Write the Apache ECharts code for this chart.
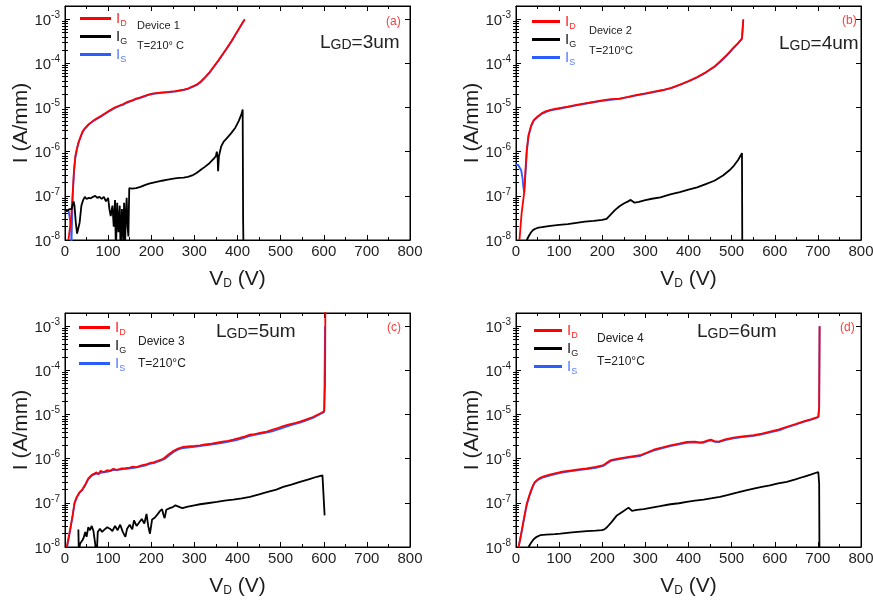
<!DOCTYPE html>
<html><head><meta charset="utf-8">
<script src="https://cdn.jsdelivr.net/npm/echarts@6/dist/echarts.min.js"></script>
<style>html,body{margin:0;padding:0;background:#fff}#c{width:873px;height:601px}</style>
</head><body><div id="c"></div>
<script>
// ---------- axis ranges / tick labels ----------
const xMin = 0, xMax = 800, xStep = 100;
const yMin = 1e-8, yMax = 2e-3;
const yDecadeExps = [-8, -7, -6, -5, -4, -3];
const yMinorFactors = [2, 3, 4, 5, 6, 7, 8, 9];

// ---------- data: [V_D (V), I (A/mm)] ----------
// (a) Device 1, LGD = 3 um
const aID = [[8,1e-8],[14,3e-8],[18,1.2e-7],[21,4e-7],[24,8e-7],[27,1.1e-6],[31,1.6e-6],[36,2.2e-6],[41,2.9e-6],[46,3.4e-6],[55,4.2e-6],[65,5e-6],[75,5.8e-6],[85,6.6e-6],[95,7.6e-6],[105,8.8e-6],[115,1.0e-5],[125,1.1e-5],[135,1.2e-5],[145,1.35e-5],[155,1.45e-5],[165,1.6e-5],[175,1.7e-5],[185,1.85e-5],[195,2.0e-5],[205,2.1e-5],[215,2.15e-5],[225,2.2e-5],[235,2.25e-5],[245,2.3e-5],[255,2.35e-5],[265,2.45e-5],[275,2.55e-5],[285,2.7e-5],[295,3.0e-5],[305,3.3e-5],[315,3.9e-5],[325,4.9e-5],[335,6.3e-5],[345,8.5e-5],[355,1.15e-4],[365,1.6e-4],[375,2.2e-4],[385,3.1e-4],[395,4.5e-4],[405,6.5e-4],[417,1.0e-3]];
const aIG = [[0,4.8e-8],[5,4.5e-8],[10,5e-8],[15,5e-8],[18,5.5e-8],[20,7.5e-8],[22,6e-8],[25,2.5e-8],[28,1.4e-8],[31,1.3e-8],[34,2.5e-8],[38,6e-8],[42,8e-8],[46,9.5e-8],[50,8.5e-8],[55,9e-8],[60,8.8e-8],[65,9.5e-8],[70,1e-7],[75,9e-8],[80,9.5e-8],[85,8.5e-8],[90,9.5e-8],[95,7.5e-8],[100,9e-8],[103,5e-8],[106,3.5e-8],[110,6e-8],[113,2e-8],[116,8e-8],[118,5e-9],[121,7e-8],[124,1.5e-8],[127,6e-8],[129,4e-9],[132,5e-8],[135,1e-8],[137,7e-8],[139,5e-9],[141,4e-8],[143,9e-8],[145,2e-8],[147,1.2e-8],[149,1.5e-7],[155,1.45e-7],[165,1.5e-7],[175,1.6e-7],[185,1.75e-7],[195,1.9e-7],[205,2e-7],[215,2.1e-7],[225,2.2e-7],[235,2.3e-7],[245,2.4e-7],[255,2.5e-7],[265,2.55e-7],[275,2.6e-7],[285,2.7e-7],[295,2.9e-7],[305,3.3e-7],[315,3.9e-7],[325,4.6e-7],[335,5.5e-7],[345,7e-7],[350,8e-7],[352,1e-6],[354,7e-7],[355,3.6e-7],[357,8e-7],[362,1.3e-6],[368,1.7e-6],[375,2e-6],[385,2.6e-6],[395,3.5e-6],[403,5e-6],[409,7e-6],[412,9e-6],[413,3e-8],[415,1e-9]];
const aIS = [[0,4.5e-8],[4,4.2e-8],[8,4.8e-8],[12,4.5e-8],[14,2e-8],[15,8e-9],[17,8e-9],[18,1.1e-7],[21,3.6e-7],[24,7.2e-7],[27,1.05e-6],[31,1.55e-6],[36,2.1e-6],[41,2.8e-6],[46,3.3e-6],[55,4.1e-6],[65,4.9e-6],[75,5.6e-6],[85,6.4e-6],[95,7.4e-6],[105,8.5e-6],[115,9.7e-6],[125,1.07e-5],[135,1.17e-5],[145,1.3e-5],[155,1.42e-5],[165,1.55e-5],[175,1.66e-5],[185,1.8e-5],[195,1.95e-5],[205,2.05e-5],[215,2.1e-5],[225,2.15e-5],[235,2.2e-5],[245,2.25e-5],[255,2.3e-5],[265,2.4e-5],[275,2.5e-5],[285,2.65e-5],[295,2.9e-5],[305,3.2e-5],[315,3.8e-5],[325,4.8e-5],[335,6.1e-5],[345,8.3e-5],[355,1.12e-4],[365,1.55e-4],[375,2.15e-4],[385,3.0e-4],[395,4.4e-4],[405,6.4e-4],[415,9.6e-4]];

// (b) Device 2, LGD = 4 um
const bID = [[8,1e-8],[13,4e-8],[19,1.2e-7],[22,4e-7],[25,1.1e-6],[29,2.4e-6],[35,3.9e-6],[41,5.2e-6],[50,6.3e-6],[60,7.5e-6],[70,8.3e-6],[80,8.9e-6],[90,9.3e-6],[100,9.7e-6],[120,1.05e-5],[140,1.15e-5],[160,1.25e-5],[180,1.35e-5],[200,1.45e-5],[220,1.55e-5],[240,1.6e-5],[260,1.75e-5],[280,1.95e-5],[300,2.1e-5],[320,2.3e-5],[340,2.5e-5],[360,2.8e-5],[380,3.3e-5],[400,4e-5],[420,4.9e-5],[440,6.3e-5],[460,8.5e-5],[475,1.15e-4],[490,1.6e-4],[505,2.3e-4],[515,2.9e-4],[524,3.7e-4],[526,3.8e-4],[527,1e-3]];
const bIG = [[25,1e-8],[30,1.25e-8],[35,1.5e-8],[40,1.7e-8],[45,1.8e-8],[52,1.9e-8],[60,1.95e-8],[80,2.1e-8],[100,2.2e-8],[120,2.3e-8],[140,2.45e-8],[160,2.6e-8],[180,2.7e-8],[200,2.85e-8],[210,3e-8],[220,3.8e-8],[230,4.8e-8],[240,5.8e-8],[250,6.7e-8],[260,7.5e-8],[266,8.1e-8],[270,7.6e-8],[275,7e-8],[285,7.3e-8],[300,8e-8],[315,8.6e-8],[335,9.2e-8],[350,1.03e-7],[360,1.1e-7],[380,1.22e-7],[400,1.38e-7],[420,1.55e-7],[440,1.85e-7],[460,2.2e-7],[480,2.9e-7],[495,3.8e-7],[505,4.8e-7],[515,6.5e-7],[524,9.3e-7],[525,1e-9]];
const bIS = [[0,5e-7],[5,5e-7],[9,4.7e-7],[12,3.8e-7],[15,2.6e-7],[17,1.6e-7],[19,1.2e-7],[21,2.2e-7],[23,4.5e-7],[25,1.0e-6],[29,2.2e-6],[35,3.7e-6],[41,5.0e-6],[50,6.1e-6],[60,7.2e-6],[70,8.0e-6],[80,8.6e-6],[90,9.0e-6],[100,9.4e-6],[120,1.02e-5],[140,1.12e-5],[160,1.22e-5],[180,1.32e-5],[200,1.42e-5],[220,1.5e-5],[240,1.58e-5],[260,1.72e-5],[280,1.9e-5],[300,2.05e-5],[320,2.25e-5],[340,2.45e-5],[360,2.75e-5],[380,3.25e-5],[400,3.9e-5],[420,4.8e-5],[440,6.2e-5],[460,8.3e-5],[475,1.12e-4],[490,1.55e-4],[505,2.25e-4],[515,2.85e-4],[524,3.6e-4],[526,3.7e-4],[527,9.5e-4]];

// (c) Device 3, LGD = 5 um
const cID = [[4,1e-8],[12,2.5e-8],[18,5.5e-8],[22,1e-7],[27,1.35e-7],[33,1.7e-7],[40,2.0e-7],[46,2.5e-7],[54,3.6e-7],[62,4.3e-7],[68,4.6e-7],[73,4.9e-7],[78,4.4e-7],[82,5.3e-7],[90,5.0e-7],[98,5.5e-7],[104,5.3e-7],[112,5.9e-7],[120,5.6e-7],[130,6.0e-7],[140,6.1e-7],[150,6.3e-7],[158,6.6e-7],[165,6.4e-7],[175,7.0e-7],[185,7.3e-7],[197,8.0e-7],[205,8.3e-7],[215,8.9e-7],[228,1.0e-6],[240,1.25e-6],[251,1.5e-6],[262,1.7e-6],[274,1.85e-6],[285,1.9e-6],[300,1.95e-6],[313,2.0e-6],[325,2.1e-6],[340,2.2e-6],[352,2.3e-6],[365,2.45e-6],[378,2.55e-6],[390,2.7e-6],[405,2.95e-6],[418,3.2e-6],[429,3.5e-6],[440,3.6e-6],[455,3.9e-6],[468,4.1e-6],[480,4.5e-6],[495,5.0e-6],[506,5.5e-6],[520,6.0e-6],[535,6.5e-6],[545,6.9e-6],[560,7.8e-6],[575,8.8e-6],[584,9.8e-6],[595,1.1e-5],[601,1.2e-5],[603,5e-5],[604,1e-2]];
const cIG = [[31,2.5e-8],[32,8e-9],[35,1.2e-8],[40,1.4e-8],[43,1.6e-8],[47,2.2e-8],[50,1.7e-8],[54,2.8e-8],[58,2.4e-8],[62,3e-8],[66,2.3e-8],[70,1.2e-8],[73,5e-9],[76,2.2e-8],[81,2.6e-8],[86,2.2e-8],[92,2.5e-8],[98,2.8e-8],[104,2.6e-8],[110,2.3e-8],[116,3e-8],[122,2.4e-8],[128,3.2e-8],[134,2.2e-8],[140,1.7e-8],[144,2.6e-8],[150,3.2e-8],[156,2.5e-8],[160,4e-8],[166,3e-8],[172,3.6e-8],[178,4.3e-8],[184,3.4e-8],[189,5.6e-8],[193,3e-8],[197,2e-8],[202,4.2e-8],[208,4.6e-8],[214,5.4e-8],[220,6.5e-8],[225,7.2e-8],[228,5.5e-8],[231,4.5e-8],[235,7e-8],[243,7.6e-8],[250,8e-8],[256,8.8e-8],[260,9.3e-8],[266,8e-8],[272,7.6e-8],[285,8.2e-8],[300,8.8e-8],[313,9.3e-8],[330,9.8e-8],[352,1.05e-7],[370,1.12e-7],[390,1.18e-7],[410,1.26e-7],[429,1.37e-7],[450,1.55e-7],[468,1.75e-7],[490,2.0e-7],[506,2.3e-7],[525,2.6e-7],[545,3.0e-7],[565,3.4e-7],[584,3.9e-7],[597,4.2e-7],[600,4.5e-7],[602,5.2e-8]];
const cIS = [[5,1e-8],[12,2.4e-8],[18,5.2e-8],[22,9.5e-8],[27,1.3e-7],[33,1.65e-7],[40,1.95e-7],[46,2.4e-7],[54,3.4e-7],[62,4.1e-7],[70,4.5e-7],[80,4.7e-7],[90,4.9e-7],[100,5.1e-7],[112,5.5e-7],[124,5.6e-7],[136,5.8e-7],[148,6.0e-7],[160,6.2e-7],[172,6.5e-7],[185,7.0e-7],[197,7.6e-7],[210,8.2e-7],[222,9.0e-7],[232,1.0e-6],[242,1.2e-6],[252,1.42e-6],[262,1.6e-6],[274,1.75e-6],[290,1.82e-6],[305,1.88e-6],[320,1.98e-6],[335,2.07e-6],[350,2.18e-6],[365,2.3e-6],[380,2.45e-6],[395,2.6e-6],[410,2.85e-6],[425,3.2e-6],[440,3.45e-6],[455,3.7e-6],[470,3.95e-6],[485,4.3e-6],[500,4.8e-6],[515,5.4e-6],[530,6.0e-6],[545,6.6e-6],[560,7.4e-6],[575,8.4e-6],[590,1.0e-5],[601,1.15e-5],[603,1e-3]];

// (d) Device 4, LGD = 6 um
const dID = [[6,1e-8],[12,2e-8],[18,4.2e-8],[25,9.6e-8],[32,1.6e-7],[38,2.3e-7],[43,2.9e-7],[49,3.3e-7],[56,3.7e-7],[64,4.0e-7],[80,4.4e-7],[103,5.0e-7],[125,5.4e-7],[145,5.7e-7],[164,6.0e-7],[185,6.5e-7],[203,7.2e-7],[212,8.3e-7],[220,9.3e-7],[240,1.02e-6],[265,1.12e-6],[288,1.2e-6],[305,1.4e-6],[319,1.6e-6],[340,1.8e-6],[358,2.0e-6],[378,2.2e-6],[396,2.4e-6],[415,2.45e-6],[425,2.35e-6],[435,2.4e-6],[445,2.6e-6],[452,2.7e-6],[460,2.5e-6],[470,2.45e-6],[485,2.75e-6],[504,3.0e-6],[525,3.2e-6],[551,3.4e-6],[570,3.7e-6],[589,4.1e-6],[610,4.6e-6],[628,5.3e-6],[648,6.1e-6],[667,7.0e-6],[685,7.9e-6],[701,8.9e-6],[703,1.5e-5],[704,1e-3]];
const dIG = [[29,1e-8],[35,1.25e-8],[41,1.5e-8],[48,1.7e-8],[56,1.85e-8],[70,1.9e-8],[90,1.95e-8],[103,2e-8],[130,2.15e-8],[164,2.3e-8],[185,2.35e-8],[199,2.4e-8],[205,2.5e-8],[211,2.8e-8],[222,3.7e-8],[234,5.2e-8],[248,6.4e-8],[261,7.8e-8],[265,7.6e-8],[269,6.6e-8],[280,6.9e-8],[296,7.2e-8],[315,7.8e-8],[334,8.4e-8],[358,9.3e-8],[378,9.8e-8],[396,1.05e-7],[415,1.12e-7],[435,1.19e-7],[455,1.28e-7],[473,1.37e-7],[492,1.52e-7],[512,1.7e-7],[531,1.9e-7],[551,2.1e-7],[570,2.3e-7],[589,2.5e-7],[608,2.75e-7],[628,3e-7],[648,3.4e-7],[667,3.9e-7],[685,4.4e-7],[701,5e-7],[703,2.7e-7],[704,1e-9]];
const dIS = [[6,1e-8],[12,1.9e-8],[18,4e-8],[25,9e-8],[32,1.5e-7],[38,2.2e-7],[43,2.8e-7],[49,3.2e-7],[56,3.5e-7],[64,3.8e-7],[80,4.2e-7],[103,4.8e-7],[125,5.2e-7],[145,5.5e-7],[164,5.8e-7],[185,6.2e-7],[203,6.9e-7],[212,7.9e-7],[220,8.9e-7],[240,9.8e-7],[265,1.08e-6],[288,1.15e-6],[305,1.35e-6],[319,1.53e-6],[340,1.73e-6],[358,1.92e-6],[378,2.12e-6],[396,2.3e-6],[415,2.35e-6],[425,2.28e-6],[435,2.3e-6],[445,2.5e-6],[452,2.6e-6],[460,2.42e-6],[470,2.38e-6],[485,2.65e-6],[504,2.9e-6],[525,3.1e-6],[551,3.3e-6],[570,3.55e-6],[589,3.95e-6],[610,4.4e-6],[628,5.1e-6],[648,5.9e-6],[667,6.8e-6],[685,7.7e-6],[701,8.7e-6],[703,1.4e-5],[704,1e-3]];

// ---------- texts ----------
const seriesNames = ['I_D', 'I_G', 'I_S'];
const deviceNames = ['Device 1', 'Device 2', 'Device 3', 'Device 4'];
const tempTexts = ['T=210° C', 'T=210°C', 'T=210°C', 'T=210°C'];
const lgdValues = ['3um', '4um', '5um', '6um'];
const panelTags = ['(a)', '(b)', '(c)', '(d)'];

// ---------- layout (pixels) ----------
const FONT = '"Liberation Sans", Arial, Helvetica, sans-serif';
const RED = '#ff0000', BLUE = '#2a5cff', BLACK = '#000000', TXT = '#1e1e1e';
const layout = [
  {left: 65,  top: 6,   legL: 80,  legT: 11,  dev: [137, 26],  tmp: [137, 46],  lgd: [320, 42],  tag: [386, 22],  devFs: 11},
  {left: 516, top: 6,   legL: 532, legT: 14,  dev: [589, 31],  tmp: [589, 51],  lgd: [779, 43],  tag: [842, 21],  devFs: 11},
  {left: 65,  top: 313, legL: 79,  legT: 320, dev: [138, 342], tmp: [138, 364], lgd: [216, 331], tag: [387, 328], devFs: 12},
  {left: 516, top: 313, legL: 534, legT: 323, dev: [597, 339], tmp: [597, 362], lgd: [697, 331], tag: [840, 328], devFs: 12}
];
const GW = 345, GH = 234;
const panelData = [[aID, aIG, aIS], [bID, bIG, bIS], [cID, cIG, cIS], [dID, dIG, dIS]];

const logMax = Math.log10(yMax);
const minorLog = [];
yDecadeExps.forEach(e => yMinorFactors.forEach(f => {
  const v = e + Math.log10(f);
  if (v < logMax - 1e-6) minorLog.push(v);
}));

const grids = [], xAxes = [], yAxes = [], series = [], legends = [], graphics = [];
const tickLine = {color: BLACK, width: 1};

layout.forEach((L, k) => {
  grids.push({left: L.left, top: L.top, width: GW, height: GH, show: true, borderColor: BLACK, borderWidth: 1,
    backgroundColor: 'transparent', containLabel: false, outerBoundsMode: 'none'});
  // bottom x axis
  xAxes.push({type: 'value', gridIndex: k, position: 'bottom', min: xMin, max: xMax, interval: xStep,
    axisLine: {show: true, onZero: false, lineStyle: tickLine},
    axisTick: {show: true, inside: true, length: 5, lineStyle: tickLine},
    minorTick: {show: true, splitNumber: 2, length: 3, lineStyle: tickLine},
    splitLine: {show: false}, minorSplitLine: {show: false},
    axisLabel: {fontSize: 15, color: TXT, margin: 4, fontFamily: FONT},
    name: '{a|V}{s|D}{a| (V)}', nameLocation: 'middle', nameGap: 26, nameMoveOverlap: false,
    nameTextStyle: {rich: {
      a: {fontSize: 21, fontFamily: FONT, color: TXT, lineHeight: 24, verticalAlign: 'bottom'},
      s: {fontSize: 12, fontFamily: FONT, color: TXT, lineHeight: 12, verticalAlign: 'bottom'}}}
  });
  // top mirror x axis
  xAxes.push({type: 'value', gridIndex: k, position: 'top', min: xMin, max: xMax, interval: xStep,
    axisLine: {show: true, onZero: false, lineStyle: tickLine},
    axisTick: {show: true, inside: true, length: 5, lineStyle: tickLine},
    minorTick: {show: true, splitNumber: 2, length: 3, lineStyle: tickLine},
    splitLine: {show: false}, axisLabel: {show: false}});
  // main log y axis
  yAxes.push({type: 'log', logBase: 10, gridIndex: k, position: 'left', min: yMin, max: yMax,
    axisLine: {show: true, onZero: false, lineStyle: tickLine},
    axisTick: {show: true, inside: true, length: 5, lineStyle: tickLine},
    splitLine: {show: false}, minorTick: {show: false},
    axisLabel: {margin: 5, formatter: v => {
        const e = Math.log10(v), r = Math.round(e);
        if (Math.abs(e - r) > 1e-6 || yDecadeExps.indexOf(r) < 0) return '';
        return '{a|10}{b|' + r + '}';
      },
      rich: {a: {fontSize: 15, fontFamily: FONT, color: TXT, lineHeight: 18, verticalAlign: 'bottom'},
             b: {fontSize: 10, fontFamily: FONT, color: TXT, lineHeight: 10, verticalAlign: 'top'}}},
    name: 'I (A/mm)', nameLocation: 'middle', nameGap: 33, nameMoveOverlap: false,
    nameTextStyle: {fontSize: 21, fontFamily: FONT, color: TXT}
  });
  // left minor ticks (log-space helper axis)
  yAxes.push({type: 'value', gridIndex: k, position: 'left', min: yDecadeExps[0], max: logMax,
    axisLine: {show: false}, axisLabel: {show: false}, splitLine: {show: false},
    axisTick: {show: true, inside: true, length: 3, lineStyle: tickLine, customValues: minorLog}});
  // right major ticks
  yAxes.push({type: 'value', gridIndex: k, position: 'right', min: yDecadeExps[0], max: logMax,
    axisLine: {show: true, onZero: false, lineStyle: tickLine}, axisLabel: {show: false}, splitLine: {show: false},
    axisTick: {show: true, inside: true, length: 5, lineStyle: tickLine, customValues: yDecadeExps}});
  // right minor ticks
  yAxes.push({type: 'value', gridIndex: k, position: 'right', min: yDecadeExps[0], max: logMax,
    axisLine: {show: false}, axisLabel: {show: false}, splitLine: {show: false},
    axisTick: {show: true, inside: true, length: 3, lineStyle: tickLine, customValues: minorLog}});

  const [dD, dG, dS] = panelData[k];
  const base = {type: 'line', xAxisIndex: 2 * k, yAxisIndex: 4 * k, showSymbol: false, symbol: 'none',
    animation: false, clip: true, silent: true};
  series.push(Object.assign({}, base, {name: 'I_S', data: dS, color: BLUE, lineStyle: {color: BLUE, width: 1.8}, z: 2}));
  series.push(Object.assign({}, base, {name: 'I_D', data: dD, color: RED, lineStyle: {color: RED, width: 1.8}, z: 3}));
  series.push(Object.assign({}, base, {name: 'I_G', data: dG, color: BLACK, lineStyle: {color: BLACK, width: 1.8}, z: 4}));

  legends.push({left: L.legL, top: L.legT, orient: 'vertical', padding: 0, itemGap: 1,
    itemWidth: k % 2 ? 28 : 31, itemHeight: 3, icon: 'rect', selectedMode: false,
    data: seriesNames,
    formatter: n => n === 'I_D' ? '{rI|I}{rS|D}' : n === 'I_G' ? '{kI|I}{kS|G}' : '{bI|I}{bS|S}',
    textStyle: {rich: {
      rI: {fontSize: 15, fontFamily: FONT, color: '#ff2a2a', lineHeight: 19, verticalAlign: 'middle'},
      rS: {fontSize: 9, fontFamily: FONT, color: '#ff2a2a', lineHeight: 9, verticalAlign: 'bottom'},
      kI: {fontSize: 15, fontFamily: FONT, color: '#222', lineHeight: 19, verticalAlign: 'middle'},
      kS: {fontSize: 9, fontFamily: FONT, color: '#222', lineHeight: 9, verticalAlign: 'bottom'},
      bI: {fontSize: 15, fontFamily: FONT, color: '#5b7cff', lineHeight: 19, verticalAlign: 'middle'},
      bS: {fontSize: 9, fontFamily: FONT, color: '#5b7cff', lineHeight: 9, verticalAlign: 'bottom'}}}
  });

  graphics.push({type: 'text', x: L.dev[0], y: L.dev[1], silent: true,
    style: {text: deviceNames[k], fontSize: L.devFs, fontFamily: FONT, fill: '#222', align: 'left', verticalAlign: 'middle'}});
  graphics.push({type: 'text', x: L.tmp[0], y: L.tmp[1], silent: true,
    style: {text: tempTexts[k], fontSize: L.devFs, fontFamily: FONT, fill: '#222', align: 'left', verticalAlign: 'middle'}});
  graphics.push({type: 'text', x: L.lgd[0], y: L.lgd[1], silent: true,
    style: {text: '{L|L}{s|GD}{L|=' + lgdValues[k] + '}', align: 'left', verticalAlign: 'middle',
      rich: {L: {fontSize: 19, fontFamily: FONT, fill: '#222', lineHeight: 20, verticalAlign: 'bottom'},
             s: {fontSize: 14, fontFamily: FONT, fill: '#222', lineHeight: 15, verticalAlign: 'bottom'}}}});
  graphics.push({type: 'text', x: L.tag[0], y: L.tag[1], silent: true,
    style: {text: panelTags[k], fontSize: 12, fontFamily: FONT, fill: '#ff3b3b', align: 'left', verticalAlign: 'middle'}});
});

const chart = echarts.init(document.getElementById('c'), null, {renderer: 'canvas', width: 873, height: 601});
chart.setOption({
  backgroundColor: '#ffffff',
  animation: false,
  textStyle: {fontFamily: FONT},
  grid: grids, xAxis: xAxes, yAxis: yAxes, series: series, legend: legends, graphic: graphics
});
</script></body></html>
